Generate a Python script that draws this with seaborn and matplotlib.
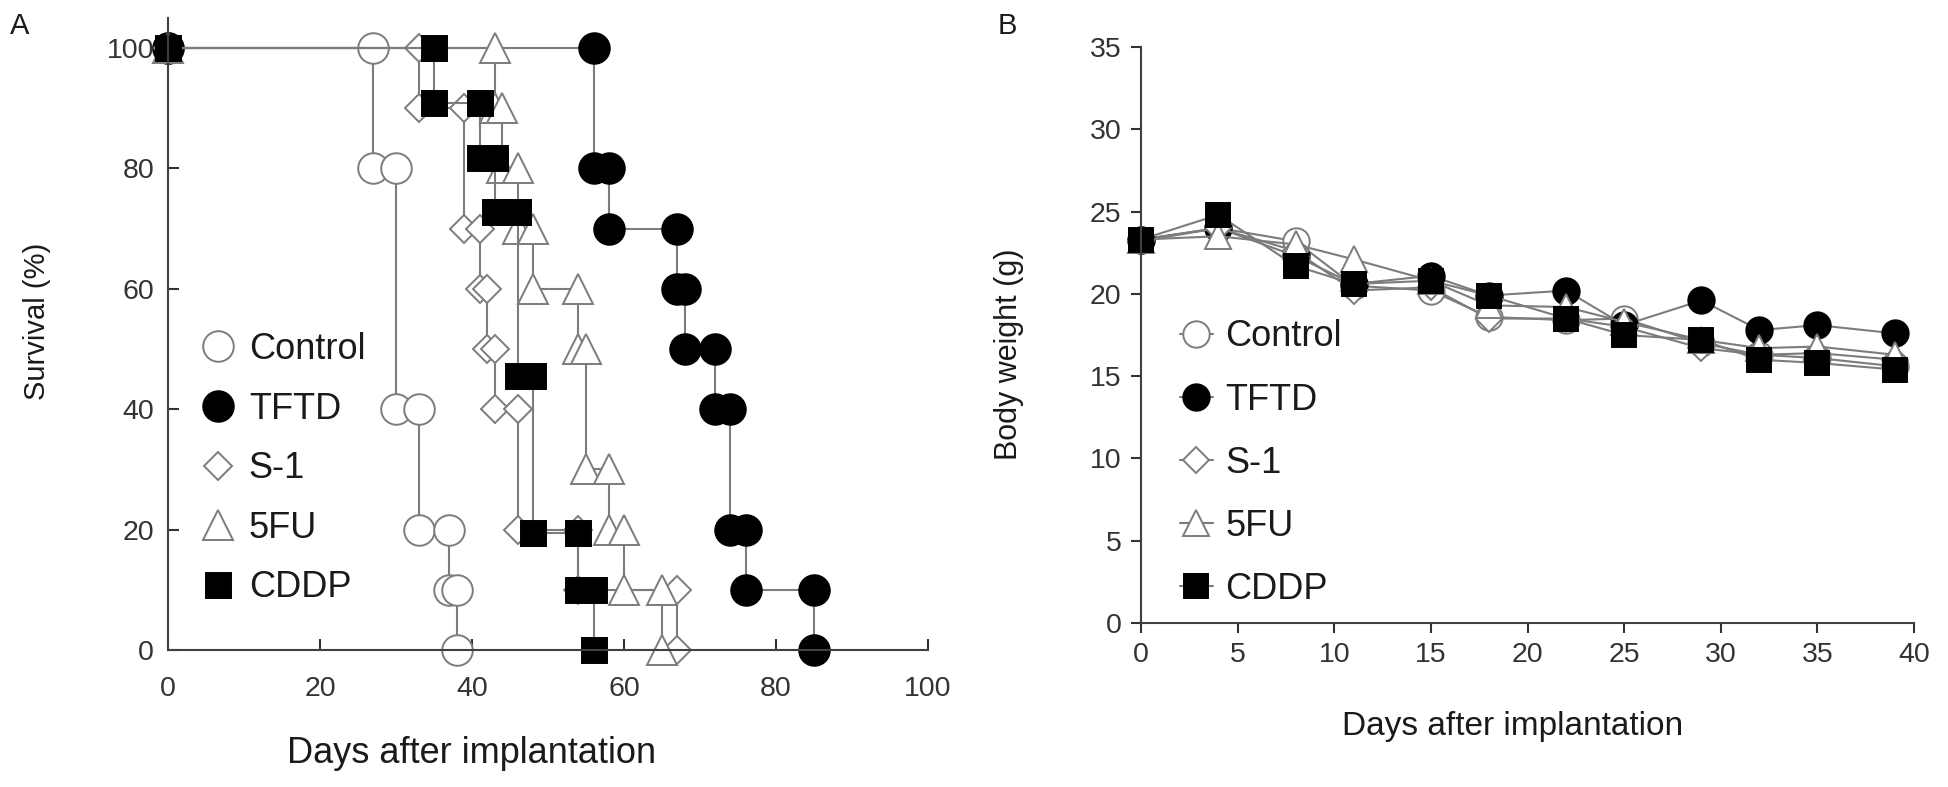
import seaborn as sns
import matplotlib.pyplot as plt
from matplotlib.lines import Line2D

# Panel A: survival step events (day of drop, survival % after drop)
groups = ['Control', 'TFTD', 'S-1', '5FU', 'CDDP']
ctrl_days = [27, 30, 33, 37, 38]
ctrl_surv = [80, 40, 20, 10, 0]
tftd_days = [56, 58, 67, 68, 72, 74, 76, 85]
tftd_surv = [80, 70, 60, 50, 40, 20, 10, 0]
s1_days = [33, 39, 41, 42, 43, 46, 54, 67]
s1_surv = [90, 70, 60, 50, 40, 20, 10, 0]
fu_days = [43, 44, 46, 48, 54, 55, 58, 60, 65]
fu_surv = [90, 80, 70, 60, 50, 30, 20, 10, 0]
cddp_days = [35, 41, 43, 46, 48, 54, 56]
cddp_surv = [90.9, 81.8, 72.7, 45.5, 19.4, 10, 0]

# Panel B: body weight (g)
bw_days = [0, 4, 8, 11, 15, 18, 22, 25, 29, 32, 35, 39]
bw_ctrl = [23.3, 24.0, 23.2, 20.5, 20.2, 18.6, 18.4, 18.5, 17.0, 16.3, 16.1, 15.6]
bw_tftd = [23.3, 24.0, 22.3, 20.6, 21.1, 19.9, 20.2, 18.1, 19.6, 17.8, 18.1, 17.6]
bw_s1 = [23.2, 24.0, 22.6, 20.2, 20.4, 18.5, 18.5, 18.0, 16.7, 16.3, 16.4, 16.0]
bw_fu = [23.3, 23.5, 23.0, 22.1, 20.8, 19.3, 19.2, 18.3, 17.2, 16.7, 16.8, 16.3]
bw_cddp = [23.3, 24.8, 21.7, 20.6, 20.8, 19.9, 18.5, 17.5, 17.2, 16.0, 15.8, 15.4]

GRAY = '#7c7c7c'
styles = {
    'Control': dict(marker='o', mfc='white', mec=GRAY, ms_a=22, ms_b=19),
    'TFTD': dict(marker='o', mfc='black', mec='black', ms_a=22, ms_b=19),
    'S-1': dict(marker='D', mfc='white', mec=GRAY, ms_a=14, ms_b=13),
    '5FU': dict(marker='^', mfc='white', mec=GRAY, ms_a=21, ms_b=19),
    'CDDP': dict(marker='s', mfc='black', mec='black', ms_a=18, ms_b=17),
}


def km_steps(days, surv):
    xs, ys = [0], [100]
    prev = 100
    for d, s in zip(days, surv):
        xs += [d, d]
        ys += [prev, s]
        prev = s
    return xs, ys


sns.set_style("ticks")
plt.rcParams['font.family'] = ['Liberation Sans', 'DejaVu Sans']
plt.rcParams['text.color'] = '#1a1a1a'
plt.rcParams['axes.labelcolor'] = '#1a1a1a'
plt.rcParams['xtick.color'] = '#333333'
plt.rcParams['ytick.color'] = '#333333'

fig = plt.figure(figsize=(19.49, 7.87), dpi=100)
axA = fig.add_axes([168 / 1949, 1 - 650 / 787, 760 / 1949, 632 / 787])
axB = fig.add_axes([1141 / 1949, 1 - 623 / 787, 773 / 1949, 576 / 787])

surv_data = {
    'Control': km_steps(ctrl_days, ctrl_surv),
    'TFTD': km_steps(tftd_days, tftd_surv),
    'S-1': km_steps(s1_days, s1_surv),
    '5FU': km_steps(fu_days, fu_surv),
    'CDDP': km_steps(cddp_days, cddp_surv),
}
bw_data = {'Control': bw_ctrl, 'TFTD': bw_tftd, 'S-1': bw_s1, '5FU': bw_fu, 'CDDP': bw_cddp}

for g in groups:
    st = styles[g]
    xs, ys = surv_data[g]
    sns.lineplot(x=xs, y=ys, ax=axA, sort=False, estimator=None, color=GRAY,
                 linewidth=1.5, marker=st['marker'], markersize=st['ms_a'],
                 markerfacecolor=st['mfc'], markeredgecolor=st['mec'],
                 markeredgewidth=1.4, clip_on=False, legend=False)
    sns.lineplot(x=bw_days, y=bw_data[g], ax=axB, sort=False, estimator=None, color=GRAY,
                 linewidth=1.5, marker=st['marker'], markersize=st['ms_b'],
                 markerfacecolor=st['mfc'], markeredgecolor=st['mec'],
                 markeredgewidth=1.4, clip_on=False, legend=False)

for ax in (axA, axB):
    for sp in ['top', 'right']:
        ax.spines[sp].set_visible(False)
    for sp in ['left', 'bottom']:
        ax.spines[sp].set_color('#404040')
        ax.spines[sp].set_linewidth(1.5)

axA.set_xlim(0, 100)
axA.set_ylim(0, 105)
axA.set_xticks(range(0, 101, 20))
axA.set_yticks(range(0, 101, 20))
axA.tick_params(direction='in', length=8, width=1.5, labelsize=20.5, pad=19)
axA.tick_params(axis='y', pad=10)
axA.set_xlabel('Days after implantation', fontsize=26)
axA.set_ylabel('Survival (%)', fontsize=21)
axA.xaxis.set_label_coords(0.40, -0.163)
axA.xaxis.label.set_va('center')
axA.yaxis.set_label_coords(-0.172, 0.52)
axA.yaxis.label.set_va('center')

axB.set_xlim(0, 40)
axB.set_ylim(0, 35)
axB.set_xticks(range(0, 41, 5))
axB.set_yticks(range(0, 36, 5))
axB.tick_params(direction='out', length=7, width=1.5, labelsize=20.5, pad=7)
axB.set_xlabel('Days after implantation', fontsize=24)
axB.set_ylabel('Body weight (g)', fontsize=22)
axB.xaxis.set_label_coords(0.481, -0.18)
axB.xaxis.label.set_va('center')
axB.yaxis.set_label_coords(-0.171, 0.467)
axB.yaxis.label.set_va('center')

# legends
hA = [Line2D([], [], linestyle='none', marker=styles[g]['marker'], markersize=styles[g]['ms_a'],
             markerfacecolor=styles[g]['mfc'], markeredgecolor=styles[g]['mec'], markeredgewidth=1.4)
      for g in groups]
axA.legend(hA, groups, loc='upper left', bbox_to_anchor=(0.046, 0.503), frameon=False,
           fontsize=26, borderpad=0, borderaxespad=0, handlelength=0.85, handletextpad=0.42,
           labelspacing=0.68)

hB = [Line2D([], [], color=GRAY, linewidth=1.5, marker=styles[g]['marker'], markersize=styles[g]['ms_b'],
             markerfacecolor=styles[g]['mfc'], markeredgecolor=styles[g]['mec'], markeredgewidth=1.4)
      for g in groups]
axB.legend(hB, groups, loc='upper left', bbox_to_anchor=(0.05, 0.527), frameon=False,
           fontsize=26, borderpad=0, borderaxespad=0, handlelength=0.93, handletextpad=0.34,
           labelspacing=0.78)

fig.text(10 / 1949, 1 - 12 / 787, 'A', fontsize=21, va='top', ha='left')
fig.text(998 / 1949, 1 - 12 / 787, 'B', fontsize=21, va='top', ha='left')

fig.savefig('out.png', dpi=100)
